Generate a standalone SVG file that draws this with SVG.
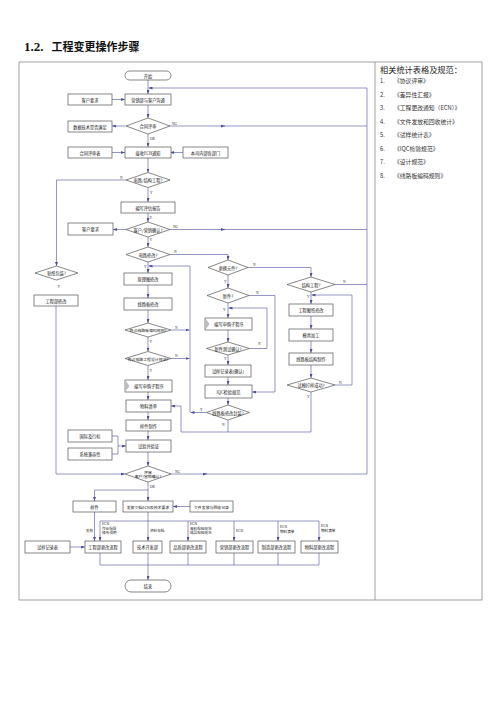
<svg xmlns="http://www.w3.org/2000/svg" width="500" height="707" viewBox="0 0 500 707">
<defs>
<marker id="a" markerWidth="4" markerHeight="3" refX="4" refY="1.5" orient="auto" markerUnits="userSpaceOnUse"><path d="M0,0 L4,1.5 L0,3 Z" fill="#4d4d9a"/></marker>
<style>
.bx{fill:#fff;stroke:#555;stroke-width:0.7}
.t{font-family:"Noto Sans CJK SC","DejaVu Sans",sans-serif;font-size:4.2px;text-anchor:middle;dominant-baseline:central;fill:#111}
.s{font-family:"Liberation Serif","Noto Sans CJK SC",serif;font-size:3.6px;fill:#333}
.sm{font-family:"Noto Sans CJK SC",sans-serif;font-size:3.6px;fill:#222}
.c{fill:none;stroke:#4d4d9a;stroke-width:0.6;marker-end:url(#a)}
.l{fill:none;stroke:#4d4d9a;stroke-width:0.6}
.li{font-family:"Noto Sans CJK SC","Liberation Serif",serif;font-size:5.8px;fill:#333}
.tri{fill:#bbb;stroke:none}
</style>
</defs>
<rect width="500" height="707" fill="#fff"/>
<text x="24" y="51" font-family="'Liberation Serif',serif" font-weight="bold" font-size="13" fill="#111">1.2.</text>
<text x="51.5" y="51" font-family="'Noto Sans CJK SC',sans-serif" font-weight="bold" font-size="11" fill="#111">工程变更操作步骤</text>
<g id="frame" fill="none" stroke="#8a8a8a" stroke-width="0.8">
<rect x="19" y="62" width="463" height="538"/>
<line x1="375" y1="62" x2="375" y2="600"/>
</g>
<g id="legend">
<text x="380" y="73" font-family="'Noto Sans CJK SC',serif" font-size="8.2" fill="#222">相关统计表格及规范：</text>
<text class="li" x="380" y="83">1.</text><text class="li" x="394" y="83">《协议评审》</text>
<text class="li" x="380" y="96.5">2.</text><text class="li" x="394" y="96.5">《差异性汇报》</text>
<text class="li" x="380" y="110">3.</text><text class="li" x="394" y="110">《工程更改通知（ECN）》</text>
<text class="li" x="380" y="123.5">4.</text><text class="li" x="394" y="123.5">《文件发放和回收统计》</text>
<text class="li" x="380" y="137">5.</text><text class="li" x="394" y="137">《试样统计表》</text>
<text class="li" x="380" y="150.5">6.</text><text class="li" x="394" y="150.5">《IQC检验规范》</text>
<text class="li" x="380" y="164">7.</text><text class="li" x="394" y="164">《设计规范》</text>
<text class="li" x="380" y="177.5">8.</text><text class="li" x="394" y="177.5">《线路板编码规则》</text>
</g>
<g id="connectors">
<path class="c" d="M148 80 V94"/>
<path class="c" d="M367 88 H148.5"/>
<path class="c" d="M112 99.5 H125"/>
<path class="c" d="M148 105 V118"/>
<path class="c" d="M125.5 126 H112"/>
<path class="c" d="M169.5 126 H225"/>
<path class="l" d="M224 126 H367"/>
<path class="c" d="M148 134 V147"/>
<path class="c" d="M112 152.5 H125"/>
<path class="c" d="M183 152.5 H170"/>
<path class="c" d="M148 158 V172.5"/>
<path class="c" d="M126 180 H56.5 V266"/>
<path class="c" d="M148 187.5 V202"/>
<path class="c" d="M148 213 V222"/>
<path class="c" d="M126 229.5 H113"/>
<path class="c" d="M170 229.5 H225"/>
<path class="l" d="M224 229.5 H367"/>
<path class="c" d="M148 237 V247"/>
<path class="c" d="M170 254.5 H228 V260"/>
<path class="c" d="M148 262 V273"/>
<path class="c" d="M206.5 412.5 H190.5"/>
<path class="c" d="M190 412.5 V266 H148.5"/>
<path class="c" d="M148 285 V298"/>
<path class="c" d="M148 310 V323"/>
<path class="c" d="M171 330 H189.5"/>
<path class="c" d="M148 337 V351.5"/>
<path class="c" d="M171 358.5 H189.5"/>
<path class="c" d="M148 365.5 V380"/>
<path class="c" d="M148 392 V400"/>
<path class="c" d="M148 412 V420"/>
<path class="c" d="M148 431 V440"/>
<path class="l" d="M112 436 H118 V454 H112"/>
<path class="c" d="M118 446 H126"/>
<path class="c" d="M148 452 V466"/>
<path class="c" d="M56 306 V474 H125"/>
<path class="c" d="M171 474 H207"/>
<path class="l" d="M206 474 H367 V88"/>
<path class="c" d="M148 482 V501"/>
<path class="c" d="M148 490 H94.5 V501"/>
<path class="c" d="M190 506.5 H173"/>
<path class="c" d="M94.5 512 V541"/>
<path class="c" d="M148 512 V541"/>
<path class="l" d="M100 521 H319"/>
<path class="c" d="M100 521 V541"/>
<path class="c" d="M188 521 V541"/>
<path class="c" d="M234 521 V541"/>
<path class="c" d="M278 521 V541"/>
<path class="c" d="M319 521 V541"/>
<path class="l" d="M100 553 V565 H319 V553 M188 553 V565 M234 553 V565 M278 553 V565"/>
<path class="c" d="M148 553 V580"/>
<path class="c" d="M70 547 H85"/>
<path class="c" d="M228 275 V288"/>
<path class="c" d="M248 267.5 H311 V277"/>
<path class="c" d="M249 295.5 H275 V392 H252"/>
<path class="c" d="M228 303 V318"/>
<path class="c" d="M249.5 348.5 H267 V308 H228.5"/>
<path class="c" d="M228 330 V342"/>
<path class="c" d="M228 355 V365"/>
<path class="c" d="M228 377 V385"/>
<path class="c" d="M228 398 V405"/>
<path class="l" d="M228 420 V432"/>
<path class="l" d="M335 284.5 H367"/>
<path class="c" d="M311 292 V304"/>
<path class="c" d="M311 316 V329"/>
<path class="c" d="M311 341 V353"/>
<path class="c" d="M311 365 V378"/>
<path class="c" d="M335 385 H352 V295 H311.5"/>
<path class="c" d="M311 392 V432 H181 V406 H171"/>
</g>
<g id="edge-labels">
<text class="s" x="172" y="124.5">NG</text><text class="s" x="150" y="140">OK</text>
<text class="s" x="120" y="178.5">N</text><text class="s" x="150" y="194">Y</text>
<text class="s" x="149.5" y="219">Y</text>
<text class="s" x="173" y="228">NG</text><text class="s" x="149.5" y="241">Y</text>
<text class="s" x="174" y="253">N</text><text class="s" x="144" y="268">Y</text>
<text class="s" x="175" y="328.5">N</text><text class="s" x="149.5" y="343">Y</text>
<text class="s" x="175" y="357">N</text><text class="s" x="149.5" y="372">Y</text>
<text class="s" x="57.5" y="288">Y</text>
<text class="s" x="175" y="472.5">NG</text><text class="s" x="150" y="488">OK</text>
<text class="s" x="253" y="266">N</text><text class="s" x="224" y="283">Y</text>
<text class="s" x="256" y="294">N</text><text class="s" x="223" y="311">Y</text>
<text class="s" x="258" y="345">N</text><text class="s" x="224" y="359.5">Y</text>
<text class="s" x="200" y="411">Y</text><text class="s" x="222" y="426">N</text>
<text class="s" x="343" y="283">N</text><text class="s" x="307" y="298">Y</text>
<text class="s" x="339" y="383.5">N</text><text class="s" x="307" y="398">Y</text>
<text class="sm" x="86" y="532">失效</text>
<text class="sm" x="102" y="525">ECN</text><text class="sm" x="102" y="529.5">作业指导</text><text class="sm" x="102" y="534">修改说明</text>
<text class="sm" x="150" y="532">资料存档</text>
<text class="sm" x="190" y="525">ECN</text><text class="sm" x="190" y="529.5">来料检验规范</text><text class="sm" x="190" y="534">成品检验规范</text>
<text class="sm" x="236" y="532">ECN</text>
<text class="sm" x="280" y="528">ECN</text><text class="sm" x="280" y="532.5">物料清单</text>
<text class="sm" x="321" y="527">ECN</text><text class="sm" x="321" y="531.5">物料清单</text>
</g>
<g id="start"><rect class="bx" x="125" y="71" width="46" height="9" rx="4.5"/><text class="t" x="148" y="75.5">开始</text></g>
<g id="n-yxgt"><rect class="bx" x="125" y="94" width="46" height="11"/><text class="t" x="148" y="99.5">营销部与客户沟通</text></g>
<g id="n-khyq1"><rect class="bx" x="68" y="94" width="44" height="11"/><text class="t" x="90" y="99.5">客户要求</text></g>
<g id="d-htps"><polygon class="bx" points="148,118 170,126 148,134 126,126"/><text class="t" x="148" y="126">合同评审</text></g>
<g id="n-sjjs"><rect class="bx" x="68" y="121" width="44" height="11"/><text class="t" x="90" y="126.5">数据技术是否满足</text></g>
<g id="n-ecn"><rect class="bx" x="125" y="147" width="46" height="11"/><text class="t" x="148" y="152.5">接收ECN通知</text></g>
<g id="n-htpsb"><rect class="bx" x="68" y="147" width="44" height="11"/><text class="t" x="90" y="152.5">合同评审表</text></g>
<g id="n-bsbm"><rect class="bx" x="183" y="147" width="45" height="11"/><text class="t" x="205.5" y="152.5">本司内部各部门</text></g>
<g id="d-dljg"><polygon class="bx" points="148,172.5 170,180 148,187.5 126,180"/><text class="t" x="148" y="180">电路/结构工程?</text></g>
<g id="n-pgbg"><rect class="bx" x="121" y="202" width="54" height="11"/><text class="t" x="148" y="207.5">编写评估报告</text></g>
<g id="d-khqr"><polygon class="bx" points="148,222 170,229.5 148,237 126,229.5"/><text class="t" x="148" y="229.5">客户/营销确认?</text></g>
<g id="n-khyq2"><rect class="bx" x="68" y="223" width="45" height="12"/><text class="t" x="90.5" y="229">客户要求</text></g>
<g id="d-dlxg"><polygon class="bx" points="148,247 170,254.5 148,262 126,254.5"/><text class="t" x="148" y="254.5">电路修改?</text></g>
<g id="n-ylt"><rect class="bx" x="124" y="273" width="48" height="12"/><text class="t" x="148" y="279">原理图修改</text></g>
<g id="n-xlb"><rect class="bx" x="124" y="298" width="48" height="12"/><text class="t" x="148" y="304">线路板修改</text></g>
<g id="d-bmgz"><polygon class="bx" points="148,323 171,330 148,337 125,330"/><text class="t" x="148" y="330" style="font-size:3.9px">符合线路板编码规则?</text></g>
<g id="d-sjgf"><polygon class="bx" points="148,351.5 171,358.5 148,365.5 125,358.5"/><text class="t" x="148" y="358.5" style="font-size:3.9px">符合电路工程设计规范?</text></g>
<g id="n-sg1"><rect class="bx" x="125" y="380" width="47" height="12"/><polygon class="tri" points="125.5,380.5 129.5,386 125.5,391.5"/><text class="t" x="149" y="386">编写申购子程序</text></g>
<g id="n-wlqd"><rect class="bx" x="126" y="400" width="45" height="12"/><text class="t" x="148.5" y="406">物料清单</text></g>
<g id="n-yjzz"><rect class="bx" x="126" y="420" width="45" height="11"/><text class="t" x="148.5" y="425.5">样件制作</text></g>
<g id="n-gjhb"><rect class="bx" x="68" y="430" width="44" height="12"/><text class="t" x="90" y="436">国际及行标</text></g>
<g id="n-jrx"><rect class="bx" x="68" y="448" width="44" height="12"/><text class="t" x="90" y="454">系统兼容性</text></g>
<g id="n-syyz"><rect class="bx" x="126" y="440" width="45" height="12"/><text class="t" x="148.5" y="446">试验并验证</text></g>
<g id="d-ps"><polygon class="bx" points="148,466 171,474 148,482 125,474"/><text class="t" x="148" y="471.5" style="font-size:3.9px">评审</text><text class="t" x="148" y="476" style="font-size:3.9px">客户/营销确认?</text></g>
<g id="d-tzbz"><polygon class="bx" points="56.5,266 78,273 56.5,280 35,273"/><text class="t" x="56.5" y="273">贴纸包装?</text></g>
<g id="n-gcbxg"><rect class="bx" x="34" y="295" width="44" height="11"/><text class="t" x="56" y="300.5">工程部修改</text></g>
<g id="d-ghyj"><polygon class="bx" points="228,260 248,267.5 228,275 208,267.5"/><text class="t" x="228" y="267.5">更换元件?</text></g>
<g id="d-xj"><polygon class="bx" points="228,288 249,295.5 228,303 207,295.5"/><text class="t" x="228" y="295.5">新件?</text></g>
<g id="n-sg2"><rect class="bx" x="205" y="318" width="47" height="12"/><polygon class="tri" points="205.5,318.5 209.5,324 205.5,329.5"/><text class="t" x="229" y="324">编写申购子程序</text></g>
<g id="d-csqr"><polygon class="bx" points="228,342 249.5,348.5 228,355 206.5,348.5"/><text class="t" x="228" y="348.5">新件测试确认?</text></g>
<g id="n-syjl"><rect class="bx" x="205" y="365" width="46" height="12"/><text class="t" x="228" y="371">试样记录表(确认)</text></g>
<g id="n-iqc"><rect class="bx" x="205" y="385" width="47" height="13"/><text class="t" x="228.5" y="391.5">IQC检验规范</text></g>
<g id="d-fz"><polygon class="bx" points="228,405 249.5,412.5 228,420 206.5,412.5"/><text class="t" x="228" y="412.5">线路板修改封装?</text></g>
<g id="d-jggc"><polygon class="bx" points="311,277 335,284.5 311,292 287,284.5"/><text class="t" x="311" y="284.5">结构工程?</text></g>
<g id="n-gtxg"><rect class="bx" x="289" y="304" width="44" height="12"/><text class="t" x="311" y="310">工程图纸修改</text></g>
<g id="n-mjjg"><rect class="bx" x="289" y="329" width="44" height="12"/><text class="t" x="311" y="335">模具加工</text></g>
<g id="n-jgzz"><rect class="bx" x="289" y="353" width="44" height="12"/><text class="t" x="311" y="359">线路板结构制作</text></g>
<g id="d-smdy"><polygon class="bx" points="311,378 335,385 311,392 287,385"/><text class="t" x="311" y="385">试模打样成功?</text></g>
<g id="n-yj"><rect class="bx" x="73" y="501" width="43" height="11"/><text class="t" x="94.5" y="506.5">样件</text></g>
<g id="n-ffwd"><rect class="bx" x="123" y="501" width="50" height="11"/><text class="t" x="148" y="506.5" style="font-size:3.9px">发放文档ECN及技术要求</text></g>
<g id="n-wjff"><rect class="bx" x="190" y="501" width="43" height="11"/><text class="t" x="211.5" y="506.5" style="font-size:3.9px">文件发放与回收记录</text></g>
<g id="n-syjlb"><rect class="bx" x="25" y="541" width="45" height="12"/><text class="t" x="47.5" y="547">试样记录表</text></g>
<g id="n-gcb"><rect class="bx" x="85" y="541" width="36" height="12"/><text class="t" x="103" y="547">工程部更改流程</text></g>
<g id="n-jskf"><rect class="bx" x="133" y="541" width="29" height="12"/><text class="t" x="147.5" y="547">技术开发部</text></g>
<g id="n-pzb"><rect class="bx" x="170" y="541" width="36" height="12"/><text class="t" x="188" y="547">品质部更改流程</text></g>
<g id="n-yxb"><rect class="bx" x="216" y="541" width="37" height="12"/><text class="t" x="234.5" y="547">营销部更改流程</text></g>
<g id="n-zzb"><rect class="bx" x="258" y="541" width="37" height="12"/><text class="t" x="276.5" y="547">制造部更改流程</text></g>
<g id="n-wlb"><rect class="bx" x="301" y="541" width="37" height="12"/><text class="t" x="319.5" y="547">物料部更改流程</text></g>
<g id="end"><rect class="bx" x="125" y="580" width="46" height="12" rx="6"/><text class="t" x="148" y="586">结束</text></g>
</svg>
